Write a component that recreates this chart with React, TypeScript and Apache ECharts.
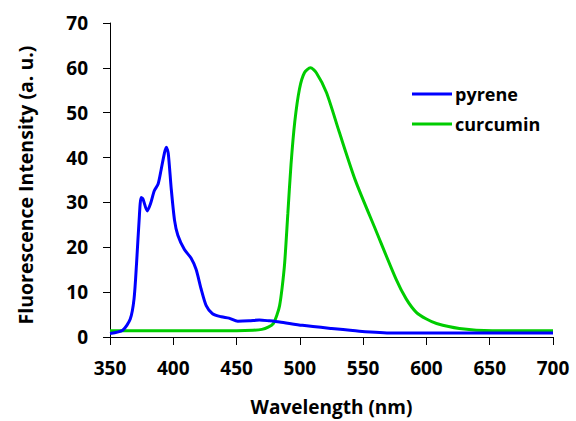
import React, { useEffect, useRef } from "react";
import * as echarts from "echarts";

const xTicks = [350, 400, 450, 500, 550, 600, 650, 700];
const yTicks = [0, 10, 20, 30, 40, 50, 60, 70];

const pyreneWl = [350, 360, 366, 369, 371, 373, 374.6, 376, 379.4, 382, 385, 388, 390.4, 393, 394.5, 396, 398.3, 401, 403.6, 408.8, 414, 418, 422, 426, 431, 438, 444, 451, 460, 468, 476, 484, 502, 525, 547, 573, 600, 650, 700];
const pyreneVal = [0.8, 1.5, 4.0, 8.5, 16.5, 26, 31.1, 30.8, 28.1, 29.7, 32.6, 34.1, 37.3, 41, 42.3, 41, 33.3, 26, 22.7, 19.5, 17.6, 15.1, 10.7, 7, 5.2, 4.5, 4.2, 3.5, 3.6, 3.8, 3.6, 3.35, 2.6, 1.9, 1.3, 0.9, 0.9, 0.9, 0.9];

const curcuminWl = [350, 400, 450, 463, 470, 475, 479, 482, 484, 486, 488, 490.5, 493, 496, 499.7, 503.6, 508.4, 513, 521, 531, 544, 560, 576, 584, 592, 600, 608, 626, 652, 700];
const curcuminVal = [1.4, 1.4, 1.4, 1.5, 1.7, 2.2, 3, 5, 7, 11, 16.5, 27.5, 38.4, 48, 55.3, 58.9, 60, 58.9, 54.5, 45.8, 34.8, 23.8, 12.9, 8.5, 5.5, 4, 3, 1.9, 1.4, 1.4];

const seriesNames = ["pyrene", "curcumin"];
const seriesColors = ["#0000ff", "#00cc00"];

const FONT = "'Open Sans', sans-serif";

export default function App() {
  const ref = useRef<HTMLDivElement>(null);
  useEffect(() => {
    if (!ref.current) return;
    const chart = echarts.init(ref.current, undefined, { renderer: "svg" });
    const pairs = (xs: number[], ys: number[]) => xs.map((x, i) => [x, ys[i]]);
    chart.setOption({
      animation: false,
      backgroundColor: "#ffffff",
      grid: { left: 110, right: 23, top: 23, bottom: 79 },
      legend: {
        orient: "vertical",
        left: 412,
        top: 84,
        padding: 0,
        icon: "rect",
        itemWidth: 40,
        itemHeight: 3,
        itemGap: 10,
        data: seriesNames,
        textStyle: {
          fontFamily: FONT,
          fontWeight: "bold",
          fontSize: 18,
          lineHeight: 20,
          color: "#000",
          padding: [0, 0, 0, -2],
        },
      },
      xAxis: {
        type: "value",
        min: xTicks[0],
        max: xTicks[xTicks.length - 1],
        interval: 50,
        name: "Wavelength (nm)",
        nameLocation: "middle",
        nameGap: 60,
        nameTextStyle: { fontFamily: FONT, fontWeight: "bold", fontSize: 19, color: "#000" },
        axisLine: { lineStyle: { color: "#000", width: 1 } },
        axisTick: { inside: false, length: 8, lineStyle: { color: "#000" } },
        axisLabel: { fontFamily: FONT, fontWeight: "bold", fontSize: 19, color: "#000", margin: 21 },
        splitLine: { show: false },
      },
      yAxis: {
        type: "value",
        min: yTicks[0],
        max: yTicks[yTicks.length - 1],
        interval: 10,
        name: "Fluorescence Intensity (a. u.)",
        nameLocation: "middle",
        nameGap: 75,
        nameTextStyle: {
          fontFamily: FONT,
          fontWeight: "bold",
          fontSize: 19.5,
          color: "#000",
          padding: [0, 10, 0, 0],
        },
        axisLine: { show: true, lineStyle: { color: "#000", width: 1 } },
        axisTick: { show: true, inside: false, length: 7, lineStyle: { color: "#000" } },
        axisLabel: { fontFamily: FONT, fontWeight: "bold", fontSize: 19, color: "#000", margin: 22 },
        splitLine: { show: false },
      },
      series: [
        {
          name: seriesNames[0],
          type: "line",
          data: pairs(pyreneWl, pyreneVal),
          symbol: "none",
          smooth: 0.25,
          lineStyle: { color: seriesColors[0], width: 3 },
          itemStyle: { color: seriesColors[0] },
          z: 3,
        },
        {
          name: seriesNames[1],
          type: "line",
          data: pairs(curcuminWl, curcuminVal),
          symbol: "none",
          smooth: 0.25,
          lineStyle: { color: seriesColors[1], width: 3 },
          itemStyle: { color: seriesColors[1] },
          z: 2,
        },
      ],
    });
    return () => chart.dispose();
  }, []);
  return <div ref={ref} style={{ width: 576, height: 421, position: "absolute", left: 0, top: 0 }} />;
}
